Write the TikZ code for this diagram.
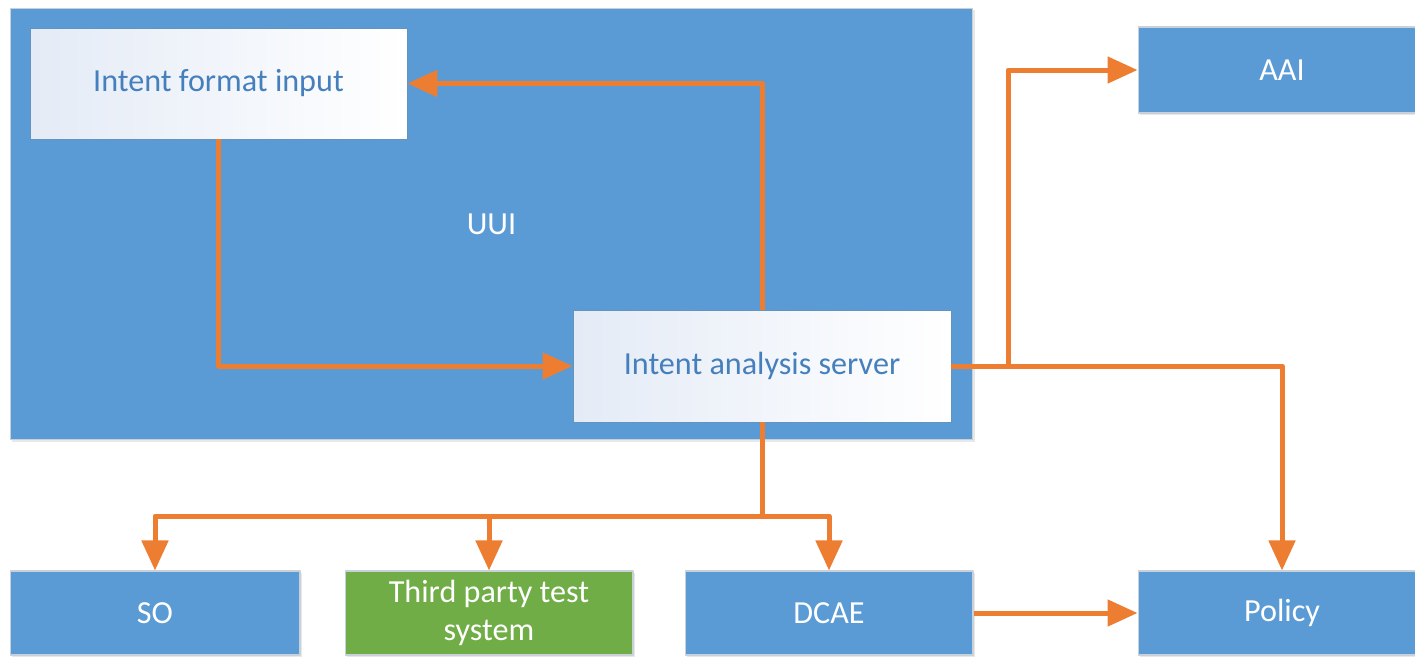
\documentclass[tikz,border=0pt]{standalone}
\usepackage{fontspec}
\setmainfont{Carlito}
\usetikzlibrary{arrows.meta,shadows}
\definecolor{boxblue}{RGB}{91,155,213}
\definecolor{boxgreen}{RGB}{112,173,71}
\definecolor{linkorange}{RGB}{237,125,49}
\definecolor{textblue}{RGB}{70,128,188}
\definecolor{paleblue}{RGB}{228,235,246}
\definecolor{edgegray}{RGB}{200,208,218}
\begin{document}
\begin{tikzpicture}[x=0.02cm,y=-0.02cm,font=\fontsize{18.3}{21.5}\selectfont,line join=round,>={Triangle[length=0.6cm,width=0.52cm]}]
	\tikzset{block/.style={draw=edgegray,line width=0.6pt,fill=boxblue,text=white,inner sep=0pt,align=center,
			drop shadow={opacity=0.18,shadow xshift=1.2pt,shadow yshift=-1.2pt}}}
	\tikzset{inputbox/.style={draw=boxblue!70!gray,line width=0.5pt,left color=paleblue,middle color=white,right color=white,text=textblue,inner sep=0pt,align=center}}
	\tikzset{link/.style={draw=linkorange,line width=0.1cm}}
	\useasboundingbox (0,0) rectangle (1415,656);
	% UUI container
	\node[block,minimum width=19.26cm,minimum height=8.64cm] (uui) at (491.5,224) {UUI};
	\node[inputbox,minimum width=7.54cm,minimum height=2.22cm] (ifi) at (218.5,83.5) {Intent format input};
	\node[inputbox,minimum width=7.56cm,minimum height=2.24cm] (ias) at (762,366) {Intent analysis server};
	% outside components
	\node[block,minimum width=5.76cm,minimum height=1.72cm] (aai) at (1282,70) {AAI};
	\node[block,minimum width=5.8cm,minimum height=1.68cm] (so) at (155,613) {SO};
	\node[block,fill=boxgreen,minimum width=5.76cm,minimum height=1.68cm] (tpts) at (489,613) {Third party test\\system};
	\node[block,minimum width=5.76cm,minimum height=1.68cm] (dcae) at (829,613) {DCAE};
	\node[block,minimum width=5.76cm,minimum height=1.68cm] (policy) at (1282,613) {Policy};
	% connectors
	\coordinate (fork) at (1008,366);
	\coordinate (bus) at (762,516);
	\draw[link,->] (ifi.south) |- (ias.west);
	\draw[link,->] (ias.north) |- (ifi.east);
	\draw[link,->] (ias.east) -- (fork) |- (aai.west);
	\draw[link,->] (ias.east) -| (policy.north);
	\draw[link] (ias.south) -- (bus);
	\draw[link,->] (bus) -| (so.north);
	\draw[link,->] (bus) -| (tpts.north);
	\draw[link,->] (bus) -| (dcae.north);
	\draw[link,->] (dcae.east) -- (policy.west);
\end{tikzpicture}
\end{document}
